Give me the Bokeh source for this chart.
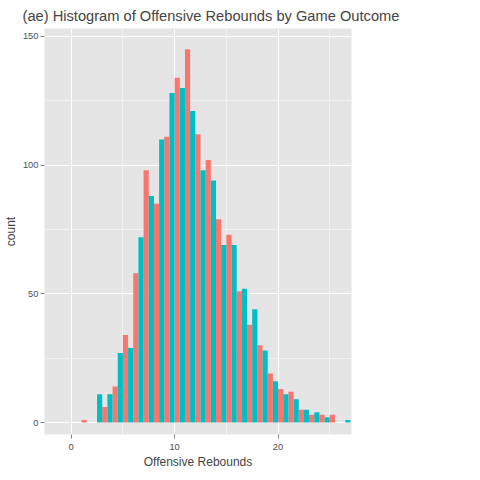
import numpy as np
from bokeh.plotting import figure
from bokeh.models import ColumnDataSource, Legend, LegendItem, FixedTicker
from bokeh.embed import file_html
from bokeh.resources import INLINE

rebounds = list(range(1, 28))
loss = [1, 0, 6, 14, 34, 58, 98, 85, 111, 134, 145, 112, 102, 79, 73, 51, 38, 30, 19, 13, 12, 5, 3, 3, 3, 0, 0]
win = [0, 0, 11, 11, 27, 29, 72, 88, 110, 128, 130, 121, 98, 94, 69, 69, 52, 44, 28, 16, 11, 9, 5, 4, 2, 0, 1]

x = np.array(rebounds, dtype=float)
src_win = ColumnDataSource(dict(left=x - 0.5, right=x, top=win))
src_loss = ColumnDataSource(dict(left=x, right=x + 0.5, top=loss))

p = figure(frame_width=307, frame_height=406, x_range=(-2.58, 27.1), y_range=(-4.66, 153.1),
           output_backend="svg", toolbar_location=None,
           title="(ae) Histogram of Offensive Rebounds by Game Outcome",
           min_border_left=0, min_border_right=0, min_border_top=0, min_border_bottom=0)
p.title.text_font = "Liberation Sans"
p.title.text_font_size = "11pt"
p.title.text_font_style = "normal"
p.title.offset = -22

p.background_fill_color = "#E5E5E5"
p.outline_line_color = None
p.border_fill_color = "white"

r_loss = p.quad(left="left", right="right", top="top", bottom=0, source=src_loss,
                fill_color="#F8766D", line_color=None)
r_win = p.quad(left="left", right="right", top="top", bottom=0, source=src_win,
               fill_color="#00BFC4", line_color=None)

p.xaxis.ticker = FixedTicker(ticks=[0, 10, 20], minor_ticks=[5, 15, 25])
p.yaxis.ticker = FixedTicker(ticks=[0, 50, 100, 150], minor_ticks=[25, 75, 125])
for ax in (p.xaxis, p.yaxis):
    ax.axis_line_color = None
    ax.major_tick_line_color = "#7F7F7F"
    ax.major_tick_out = 4
    ax.major_tick_in = 0
    ax.minor_tick_line_color = None
    ax.major_label_text_color = "#4D4D4D"
    ax.major_label_text_font = "Liberation Sans"
    ax.major_label_text_font_size = "7pt"
    ax.axis_label_text_font = "Liberation Sans"
    ax.axis_label_text_font_size = "9pt"
    ax.axis_label_text_font_style = "normal"
p.xaxis.axis_label = "Offensive Rebounds"
p.yaxis.axis_label = "count"
p.xaxis.axis_label_standoff = 2
p.yaxis.axis_label_standoff = 2
p.yaxis.major_label_standoff = 2

p.xgrid.grid_line_color = "white"
p.ygrid.grid_line_color = "white"
p.xgrid.minor_grid_line_color = "#F2F2F2"
p.ygrid.minor_grid_line_color = "#F2F2F2"

legend = Legend(items=[LegendItem(label="loss", renderers=[r_loss]),
                       LegendItem(label="win", renderers=[r_win])],
                title="GameOutcome", location="center")
legend.title_text_font = "Liberation Sans"
legend.title_text_font_style = "bold"
legend.title_text_font_size = "7pt"
legend.label_text_font = "Liberation Sans"
legend.label_text_font_size = "7pt"
legend.glyph_width = 18
legend.glyph_height = 18
legend.label_height = 18
legend.spacing = 5
legend.padding = 4
legend.border_line_color = None
legend.margin = 12
p.add_layout(legend, "right")

open("out.html", "w").write(file_html(p, INLINE))
